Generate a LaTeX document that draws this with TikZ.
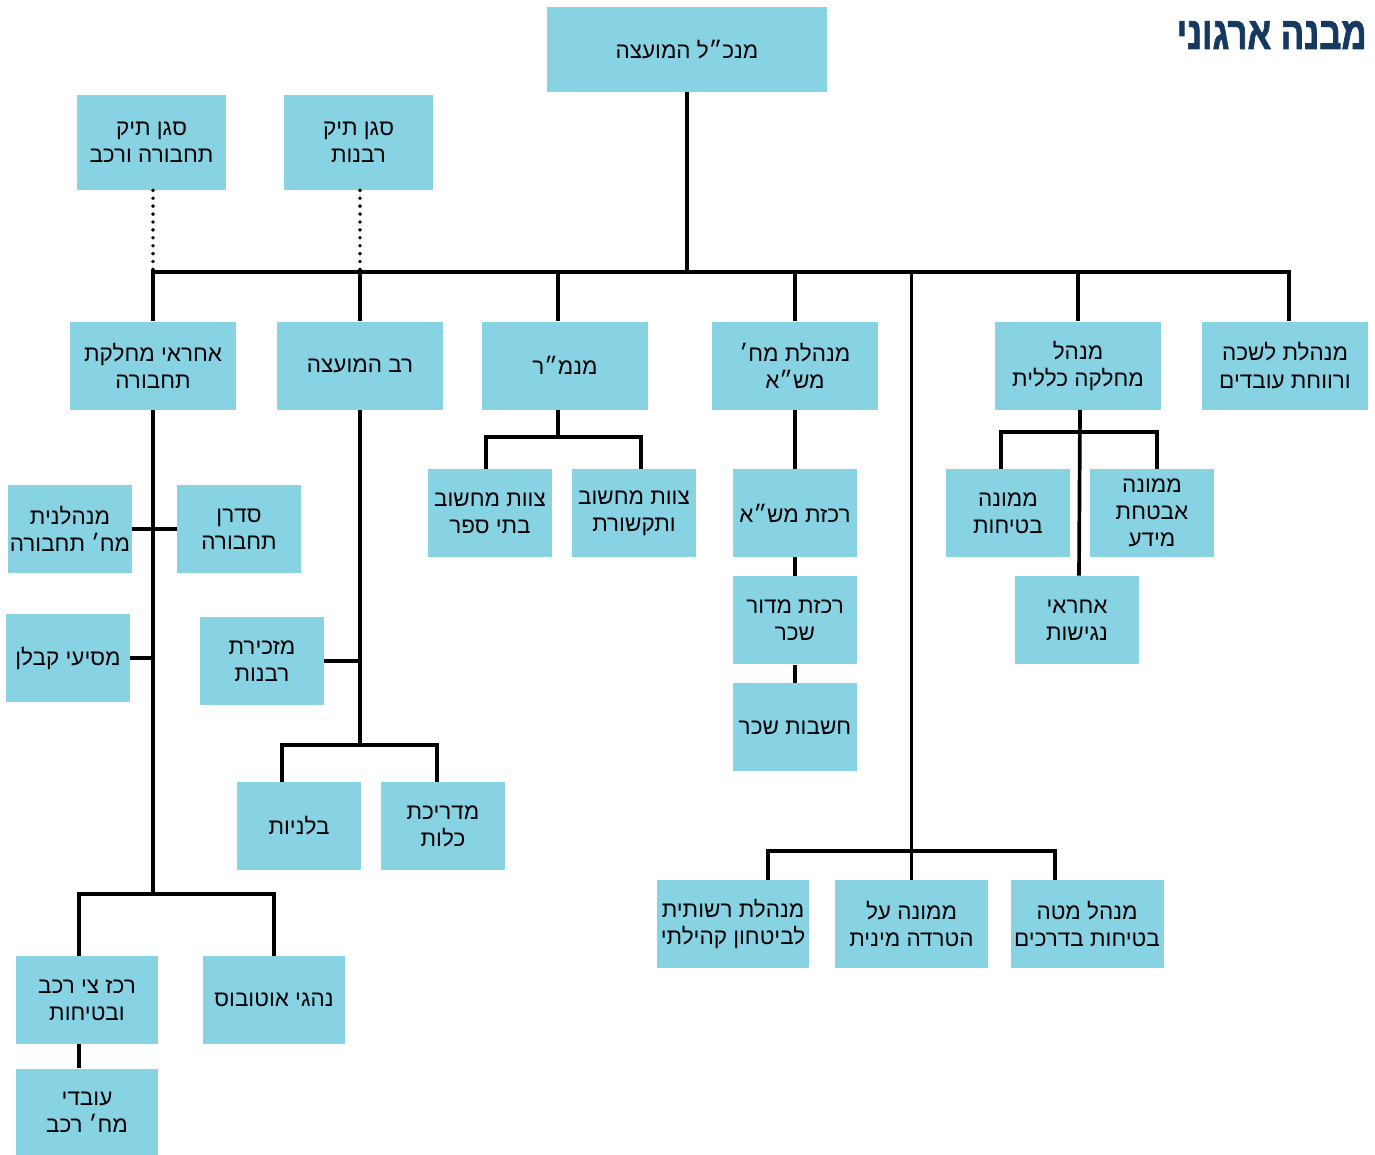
\documentclass[tikz,border=0pt]{standalone}
\usepackage{fontspec}
\setmainfont{Liberation Sans}[Script=Hebrew]
\newfontfamily\titlefont{Liberation Sans Bold}[Script=Hebrew, FakeBold=2]
\TeXXeTstate=1
\usetikzlibrary{positioning}
\newcommand{\heb}[1]{\beginR #1\endR}
\definecolor{boxblue}{RGB}{136,211,227}
\definecolor{titleblue}{RGB}{21,57,95}

\begin{document}
\begin{tikzpicture}[
                        x=0.02cm, y=-0.02cm,
                        node distance=0.37cm,
                        unit/.style={fill=boxblue, align=center, inner sep=0pt,
                                     minimum height=1.76cm, minimum width=2.48cm,
                                     font=\fontsize{12.8}{15.4}\selectfont},
                        wide/.style={unit, minimum width=3.32cm},
                        link/.style={line width=2.1pt},
                        deputy link/.style={line width=2.2pt, line cap=round,
                                            dash pattern=on 0pt off 4.5pt}
                    ]

\useasboundingbox (0,0) rectangle (1375,1154);

\node (title) [anchor=east, inner sep=0pt, text=titleblue,
               font=\titlefont\fontsize{26}{30}\bfseries\selectfont] at (1367,35)
               {\scalebox{0.76}[1]{\heb{מבנה ארגוני}}};

\node (1) [unit, minimum width=5.6cm, minimum height=1.7cm] at (687,49.5) {\heb{מנכ״ל המועצה}};
\node (2) [unit, minimum width=2.98cm, minimum height=1.9cm] at (151.5,142.5) {\heb{סגן תיק}\\\heb{תחבורה ורכב}};
\node (3) [unit, minimum width=2.98cm, minimum height=1.9cm] at (358.5,142.5) {\heb{סגן תיק}\\\heb{רבנות}};

\node (4) [wide] at (153,365.5)  {\heb{אחראי מחלקת}\\\heb{תחבורה}};
\node (5) [wide] at (360,365.5)  {\heb{רב המועצה}};
\node (6) [wide] at (565,365.5)  {\heb{מנמ״ר}};
\node (7) [wide] at (795,365.5)  {\heb{מנהלת מח׳}\\\heb{מש״א}};
\node (8) [wide] at (1078,365.5) {\heb{מנהל}\\\heb{מחלקה כללית}};
\node (9) [wide] at (1285,365.5) {\heb{מנהלת לשכה}\\\heb{ורווחת עובדים}};

% תחבורה
\node (10) [unit] at (239,529) {\heb{סדרן}\\\heb{תחבורה}};
\node (11) [unit] at (70,529)  {\heb{מנהלנית}\\\heb{מח׳ תחבורה}};
\node (12) [unit] at (68,658)  {\heb{מסיעי קבלן}};
\node (13) [unit, minimum width=2.84cm] at (274,1000) {\heb{נהגי אוטובוס}};
\node (14) [unit, minimum width=2.84cm] at (87,1000)  {\heb{רכז צי רכב}\\\heb{ובטיחות}};
\node (15) [unit, minimum width=2.84cm, below=0.48cm of 14] {\heb{עובדי}\\\heb{מח׳ רכב}};

% רבנות
\node (16) [unit] at (262,661) {\heb{מזכירת}\\\heb{רבנות}};
\node (17) [unit] at (443,826) {\heb{מדריכת}\\\heb{כלות}};
\node (18) [unit] at (299,826) {\heb{בלניות}};

% מנמ"ר
\node (19) [unit] at (634,513) {\heb{צוות מחשוב}\\\heb{ותקשורת}};
\node (20) [unit] at (490,513) {\heb{צוות מחשוב}\\\heb{בתי ספר}};

% מש"א
\node (21) [unit] at (795,513) {\heb{רכזת מש״א}};
\node (22) [unit, below=of 21] {\heb{רכזת מדור}\\\heb{שכר}};
\node (23) [unit, below=of 22] {\heb{חשבות שכר}};

% מחלקה כללית
\node (24) [unit] at (1152,513) {\heb{ממונה}\\\heb{אבטחת}\\\heb{מידע}};
\node (25) [unit] at (1008,513) {\heb{ממונה}\\\heb{בטיחות}};
\node (26) [unit] at (1077,620) {\heb{אחראי}\\\heb{נגישות}};

% ביטחון
\node (27) [unit, minimum width=3.06cm] at (1087,924)  {\heb{מנהל מטה}\\\heb{בטיחות בדרכים}};
\node (28) [unit, minimum width=3.06cm] at (911.5,924) {\heb{ממונה על}\\\heb{הטרדה מינית}};
\node (29) [unit, minimum width=3.06cm] at (733,924)   {\heb{מנהלת רשותית}\\\heb{לביטחון קהילתי}};

\coordinate (bus0) at (0,272);
\coordinate (bus1) at (0,894);
\coordinate (bus2) at (0,745);
\coordinate (bus3) at (0,437);
\coordinate (bus4) at (0,432);
\coordinate (bus5) at (0,851);

\foreach \n in {4,5,7,8}
    \draw[link] (1.south) -- (1.south |- bus0) -| (\n.north);
\draw[link] (1.south |- bus0) -| ([xshift=-0.14cm]6.north);
\draw[link] (1.south |- bus0) -| ([xshift=0.08cm]9.north);
\draw[link] (28.north) -- (28.north |- bus0);
\draw[deputy link] (2.south -| 4.north) -- (4.north |- bus0);
\draw[deputy link] (3.south -| 5.north) -- (5.north |- bus0);

\draw[link] (4.south) -- (4.south |- bus1);
\draw[link] (4.south |- bus1) -| ([xshift=-0.16cm]14.north);
\draw[link] (4.south |- bus1) -| (13.north);
\draw[link] (11.east) -- (10.west);
\draw[link] (12.east) -- (12.east -| 4.south);
\draw[link] ([xshift=-0.16cm]14.south) -- ([xshift=-0.16cm]15.north);

\draw[link] (5.south) -- (5.south |- bus2);
\draw[link] (5.south |- bus2) -| ([xshift=-0.34cm]18.north);
\draw[link] (5.south |- bus2) -| ([xshift=-0.12cm]17.north);
\draw[link] (16.east) -- (16.east -| 5.south);

\draw[link] ([xshift=-0.14cm]6.south) -- ([xshift=-0.14cm]6.south |- bus3);
\draw[link] ([xshift=-0.14cm]6.south |- bus3) -| ([xshift=-0.08cm]20.north);
\draw[link] ([xshift=-0.14cm]6.south |- bus3) -| ([xshift=0.14cm]19.north);

\draw[link] (7) -- (21) -- (22) -- (23);

\draw[link] ([xshift=0.04cm]8.south) -- ([xshift=0.04cm]26.north);
\draw[link] ([xshift=0.04cm]8.south |- bus4) -| ([xshift=-0.14cm]25.north);
\draw[link] ([xshift=0.04cm]8.south |- bus4) -| ([xshift=0.1cm]24.north);

\draw[link] (28.north |- bus5) -| ([xshift=0.7cm]29.north);
\draw[link] (28.north |- bus5) -| ([xshift=-0.64cm]27.north);

\end{tikzpicture}
\end{document}
